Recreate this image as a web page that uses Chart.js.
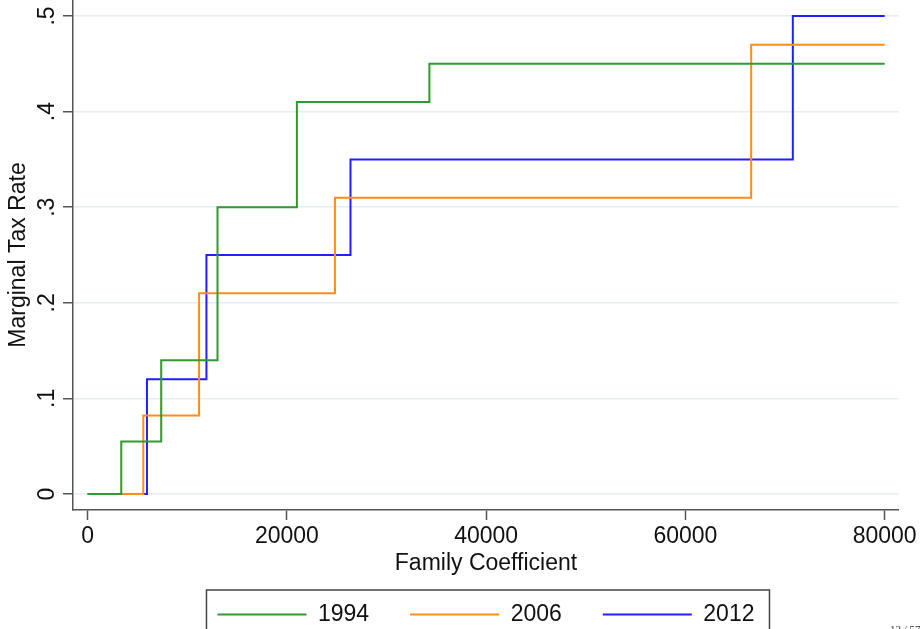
<!DOCTYPE html>
<html>
<head>
<meta charset="utf-8">
<title>Marginal Tax Rate</title>
<script src="https://cdn.jsdelivr.net/npm/chart.js@4.4.1/dist/chart.umd.min.js"></script>
<style>
  html, body { margin: 0; padding: 0; background: #fff; }
  #wrap { width: 920px; height: 629px; position: relative; overflow: hidden; }
</style>
</head>
<body>
<div id="wrap"><canvas id="taxChart" width="920" height="629"></canvas></div>
<script>
/* ===============================
   DATA
================================ */
const seriesNames = ["1994", "2006", "2012"];

// bracket thresholds (family coefficient) and the rate that starts there
const brackets1994 = [0, 3370, 7380, 13030, 21000, 34300, 80000];
const rates1994    = [0, 0.055, 0.14, 0.30, 0.41, 0.45, 0.45];

const brackets2006 = [0, 5580, 11180, 24820, 66600, 80000];
const rates2006    = [0, 0.082, 0.21, 0.31, 0.47, 0.47];

const brackets2012 = [0, 5950, 11920, 26380, 70780, 80000];
const rates2012    = [0, 0.12, 0.25, 0.35, 0.50, 0.50];

const xTicks = [0, 20000, 40000, 60000, 80000];
const yTicks = [0, 0.1, 0.2, 0.3, 0.4, 0.5];
const yTickLabels = ["0", ".1", ".2", ".3", ".4", ".5"];

const FONT = "'Liberation Sans', Arial, Helvetica, sans-serif";
const INK = "#111";
const AXIS = "#555";

function toPoints(xs, ys) {
    return xs.map((x, i) => ({ x: x, y: ys[i] }));
}

function makeSet(label, xs, ys, color) {
    return {
        label: label,
        data: toPoints(xs, ys),
        borderColor: color,
        backgroundColor: color,
        borderWidth: 2,
        pointRadius: 0,
        stepped: true,
        fill: false
    };
}

/* ===============================
   PLUGINS
================================ */
// rotated y tick labels (Stata style), placed on the scale's own tick pixels
const yLabelsPlugin = {
    id: "yLabels",
    afterDraw(chart) {
        const sc = chart.scales.y;
        const ctx = chart.ctx;
        ctx.save();
        ctx.font = "23px " + FONT;
        ctx.fillStyle = INK;
        ctx.textAlign = "center";
        ctx.textBaseline = "alphabetic";
        yTicks.forEach((v, i) => {
            const py = sc.getPixelForValue(v);
            ctx.save();
            ctx.translate(sc.right - 19.5, py);
            ctx.rotate(-Math.PI / 2);
            ctx.fillText(yTickLabels[i], 0, 0);
            ctx.restore();
        });
        ctx.restore();
    }
};

// box round the legend + the clipped page number in the corner
const legendBoxPlugin = {
    id: "legendBox",
    afterDraw(chart) {
        const lg = chart.legend;
        const ctx = chart.ctx;
        if (lg && lg.legendHitBoxes && lg.legendHitBoxes.length) {
            const hb = lg.legendHitBoxes;
            const last = hb[hb.length - 1];
            const left = hb[0].left - 11;
            const right = last.left + last.width + 15;
            const top = lg.top + 28;
            ctx.save();
            ctx.strokeStyle = "#444";
            ctx.lineWidth = 1.5;
            ctx.strokeRect(left, top, right - left, 80);
            ctx.restore();
        }
        ctx.save();
        ctx.font = "11px 'Liberation Serif', serif";
        ctx.fillStyle = "#333";
        ctx.textBaseline = "alphabetic";
        ctx.fillText("12 / 57", 890, 633);
        ctx.restore();
    }
};

/* ===============================
   CHART
================================ */
const ctx = document.getElementById("taxChart");
new Chart(ctx, {
    type: "line",
    data: {
        datasets: [
            makeSet(seriesNames[0], brackets1994, rates1994, "#2f9a2f"),
            makeSet(seriesNames[1], brackets2006, rates2006, "#ff8c1c"),
            makeSet(seriesNames[2], brackets2012, rates2012, "#2020ff")
        ]
    },
    options: {
        responsive: false,
        animation: false,
        devicePixelRatio: 1,
        layout: { padding: { top: 0, right: 20, bottom: 0, left: 0 } },
        plugins: {
            tooltip: { enabled: false },
            legend: {
                position: "bottom",
                fullSize: false,
                maxHeight: 67,
                labels: {
                    boxWidth: 89,
                    boxHeight: 0,
                    padding: 41,
                    color: INK,
                    font: { family: FONT, size: 23 }
                }
            }
        },
        scales: {
            x: {
                type: "linear",
                min: -1474,
                max: 81434,
                afterBuildTicks: (scale) => { scale.ticks = xTicks.map(v => ({ value: v })); },
                afterFit: (scale) => { scale.height = 52; },
                ticks: {
                    color: INK,
                    padding: 3,
                    maxRotation: 0,
                    font: { family: FONT, size: 23 },
                    callback: (v) => String(v)
                },
                grid: {
                    drawOnChartArea: false,
                    drawTicks: true,
                    tickLength: 10,
                    tickColor: AXIS,
                    tickWidth: 1.5
                },
                border: { display: true, color: AXIS, width: 1.5 },
                title: {
                    display: true,
                    text: "Family Coefficient",
                    color: INK,
                    font: { family: FONT, size: 23 },
                    padding: { top: 0, bottom: -15 }
                }
            },
            y: {
                type: "linear",
                min: -0.01674,
                max: 0.51674,
                afterBuildTicks: (scale) => { scale.ticks = yTicks.map(v => ({ value: v })); },
                afterFit: (scale) => { scale.width = 73; },
                ticks: { display: false },
                grid: {
                    drawOnChartArea: true,
                    color: "#e6eef1",
                    lineWidth: 1.5,
                    drawTicks: true,
                    tickLength: 10,
                    tickColor: AXIS,
                    tickWidth: 1.5
                },
                border: { display: true, color: AXIS, width: 1.5 },
                title: {
                    display: true,
                    text: "Marginal Tax Rate",
                    color: INK,
                    font: { family: FONT, size: 23 },
                    padding: { top: 5, bottom: 0 }
                }
            }
        }
    },
    plugins: [yLabelsPlugin, legendBoxPlugin]
});
</script>
</body>
</html>
